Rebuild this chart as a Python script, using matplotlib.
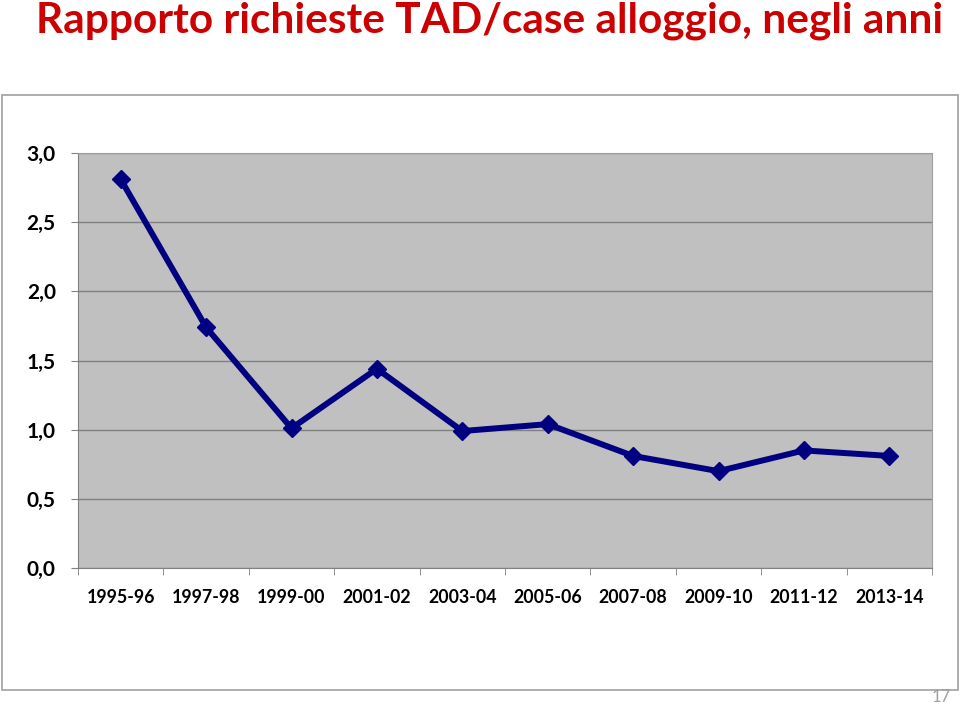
import numpy as np
import matplotlib.pyplot as plt
from matplotlib.patches import Rectangle
from matplotlib.ticker import FixedLocator

# Data ---------------------
years = ['1995-96', '1997-98', '1999-00', '2001-02', '2003-04',
         '2005-06', '2007-08', '2009-10', '2011-12', '2013-14']
ratio = [2.81, 1.74, 1.01, 1.44, 0.99, 1.04, 0.81, 0.70, 0.85, 0.81]
y_ticks = [0.0, 0.5, 1.0, 1.5, 2.0, 2.5, 3.0]

plt.rcParams['font.family'] = ['Lato', 'DejaVu Sans']

fig = plt.figure(figsize=(9.6, 7.06), dpi=100)

# Title
fig.text(0.51, 0.971, 'Rapporto richieste TAD/case alloggio, negli anni',
         ha='center', va='center', fontsize=30.5, fontweight='bold', color='#CC0000')

# Outer chart frame
fig.patches.append(Rectangle((2 / 960, 1 - 690 / 706), 956 / 960, 595 / 706,
                             transform=fig.transFigure, fill=False,
                             edgecolor='#A0A0A0', linewidth=1.2))

# Page number
fig.text(0.99, 0.002, '17', ha='right', va='bottom', fontsize=12, color='#A0A0A0')

ax = fig.add_axes([78 / 960, 1 - 568 / 706, 854 / 960, 415 / 706])
ax.set_facecolor('#C0C0C0')

x = np.arange(1, len(years) + 1)
ax.plot(x, ratio, color='#000080', linewidth=4.3, marker='D', markersize=9,
        zorder=3)

ax.set_xlim(0.5, len(years) + 0.5)
ax.set_ylim(0, 3)
ax.set_yticks(y_ticks)
ax.set_yticklabels([f'{v:.1f}'.replace('.', ',') for v in y_ticks],
                   fontsize=15, fontweight='bold')
ax.yaxis.grid(True, color='#808080', linewidth=1)
ax.set_axisbelow(True)

ax.set_xticks(x)
ax.set_xticklabels(years, fontsize=12.8, fontweight='bold')
ax.xaxis.set_minor_locator(FixedLocator(np.arange(0.5, len(years) + 1, 1)))
ax.tick_params(axis='x', which='major', length=0, pad=15)
ax.tick_params(axis='x', which='minor', length=5, color='#808080', direction='out')
ax.tick_params(axis='y', length=5, color='#808080', pad=11)

for side in ['top', 'right']:
    ax.spines[side].set_color('#A0A0A0')
for side in ['left', 'bottom']:
    ax.spines[side].set_color('#808080')

fig.savefig('out.png', dpi=100)
